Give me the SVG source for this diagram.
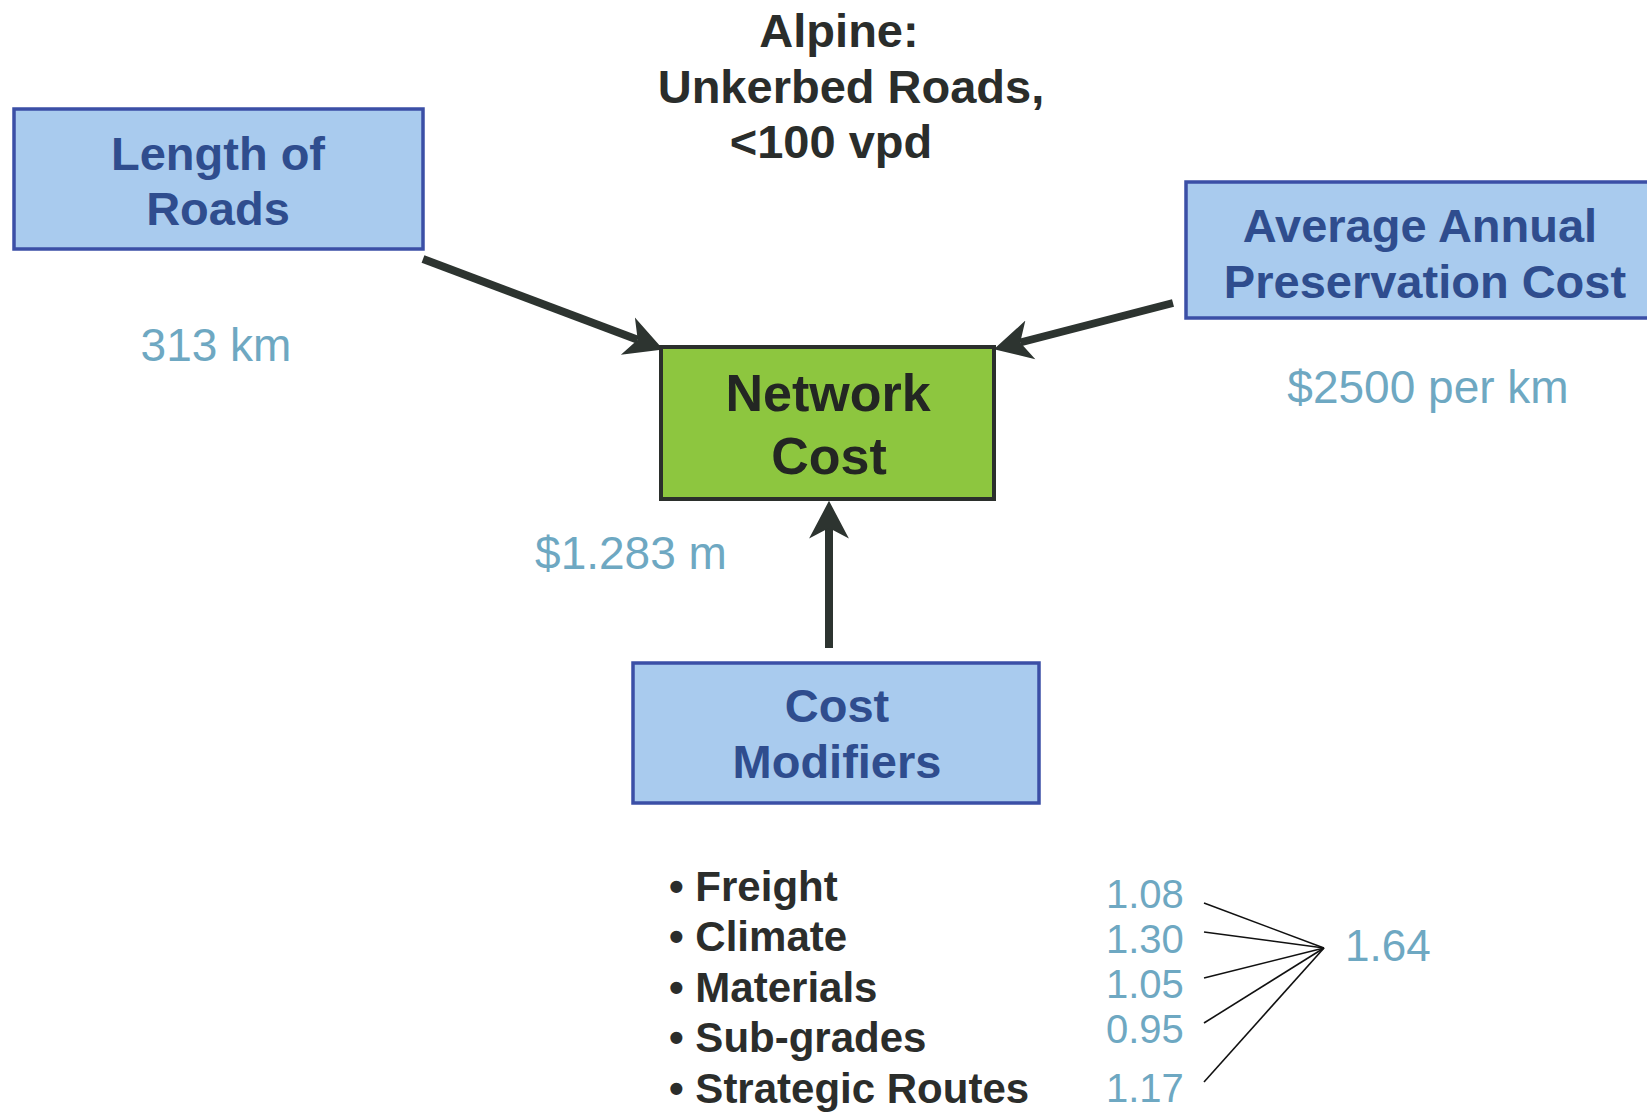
<svg xmlns="http://www.w3.org/2000/svg" width="1647" height="1112" viewBox="0 0 1647 1112">
<defs>
<style>
.bbox{fill:#a9cbee;stroke:#3b4fa6;stroke-width:3.5}
.gbox{fill:#8dc63f;stroke:#2b2f2c;stroke-width:4}
.btxt{font-family:"Liberation Sans",Arial,sans-serif;font-weight:bold;font-size:47px;fill:#2f4d8e;text-anchor:middle}
.gtxt{font-family:"Liberation Sans",Arial,sans-serif;font-weight:bold;font-size:52px;fill:#232623;text-anchor:middle}
.title{font-family:"Liberation Sans",Arial,sans-serif;font-weight:bold;font-size:47px;fill:#2a2d2b;text-anchor:middle}
.val{font-family:"Liberation Sans",Arial,sans-serif;font-size:46px;fill:#6ea8c2}
.num{font-family:"Liberation Sans",Arial,sans-serif;font-size:40px;fill:#6ea8c2}
.bul{font-family:"Liberation Sans",Arial,sans-serif;font-weight:bold;font-size:42px;fill:#2b2d2b}
.arr{stroke:#2d3430;stroke-width:8;fill:none}
.thin{stroke:#111;stroke-width:1.6;fill:none}
</style>
<marker id="ah" markerUnits="userSpaceOnUse" markerWidth="40" markerHeight="44" viewBox="0 -21 38 42" refX="10" refY="0" orient="auto">
<path d="M0,-19 L36,0 L0,19 L10,0 Z" fill="#2d3430"/>
</marker>
</defs>
<rect width="1647" height="1112" fill="#ffffff"/>

<g id="title">
<text class="title" x="839" y="47">Alpine:</text>
<text class="title" x="851" y="103">Unkerbed Roads,</text>
<text class="title" x="831" y="158">&lt;100 vpd</text>
</g>

<g id="connectors">
<line class="arr" x1="423" y1="259" x2="637.7" y2="339.8" marker-end="url(#ah)"/>
<line class="arr" x1="1173" y1="303" x2="1020.2" y2="342.5" marker-end="url(#ah)"/>
<line class="arr" x1="829" y1="648" x2="829" y2="528" marker-end="url(#ah)"/>
<line class="thin" x1="1204" y1="903" x2="1324" y2="948"/>
<line class="thin" x1="1204" y1="932" x2="1324" y2="948"/>
<line class="thin" x1="1204" y1="978" x2="1324" y2="948"/>
<line class="thin" x1="1204" y1="1023" x2="1324" y2="948"/>
<line class="thin" x1="1204" y1="1082" x2="1324" y2="948"/>
</g>

<g id="length-of-roads">
<rect class="bbox" x="14" y="109" width="409" height="140"/>
<text class="btxt" x="218" y="170">Length of</text>
<text class="btxt" x="218" y="225">Roads</text>
</g>
<g id="length-value">
<text class="val" x="216" y="361" text-anchor="middle">313 km</text>
</g>

<g id="average-annual-preservation-cost">
<rect class="bbox" x="1186" y="182" width="470" height="136"/>
<text class="btxt" x="1420" y="242">Average Annual</text>
<text class="btxt" x="1425" y="298">Preservation Cost</text>
</g>
<g id="preservation-value">
<text class="val" x="1428" y="403" text-anchor="middle">$2500 per km</text>
</g>

<g id="network-cost">
<rect class="gbox" x="661" y="347" width="333" height="152"/>
<text class="gtxt" x="828" y="411">Network</text>
<text class="gtxt" x="829" y="474">Cost</text>
</g>
<g id="network-value">
<text class="val" x="631" y="569" text-anchor="middle">$1.283 m</text>
</g>

<g id="cost-modifiers">
<rect class="bbox" x="633" y="663" width="406" height="140"/>
<text class="btxt" x="837" y="722">Cost</text>
<text class="btxt" x="837" y="778">Modifiers</text>
</g>

<g id="modifier-list">
<text class="bul" x="669" y="901">• Freight</text>
<text class="bul" x="669" y="951">• Climate</text>
<text class="bul" x="669" y="1002">• Materials</text>
<text class="bul" x="669" y="1052">• Sub-grades</text>
<text class="bul" x="669" y="1103">• Strategic Routes</text>
</g>

<g id="modifier-values">
<text class="num" x="1106" y="908">1.08</text>
<text class="num" x="1106" y="953">1.30</text>
<text class="num" x="1106" y="998">1.05</text>
<text class="num" x="1106" y="1043">0.95</text>
<text class="num" x="1106" y="1102">1.17</text>
</g>

<g id="combined-modifier">
<text class="val" x="1345" y="961" style="font-size:44px">1.64</text>
</g>
</svg>
